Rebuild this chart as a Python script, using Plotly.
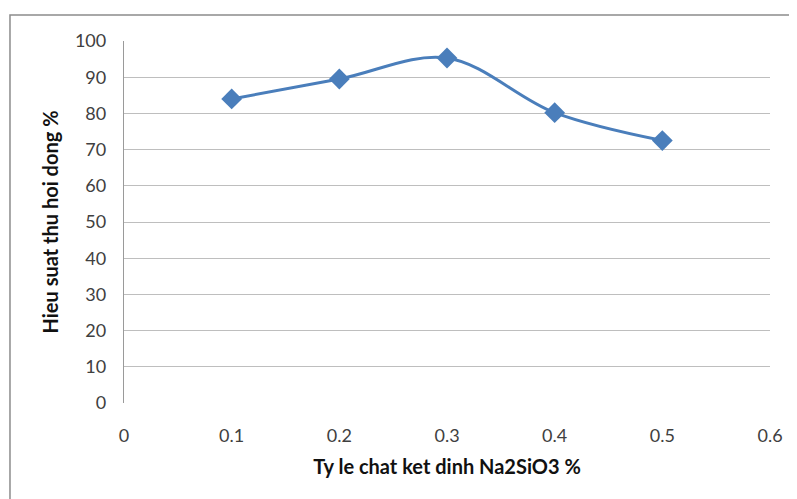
import plotly.graph_objects as go

ratio = [0.1, 0.2, 0.3, 0.4, 0.5]
recovery = [84.0, 89.5, 95.3, 80.2, 72.5]

x_ticks = [0, 0.1, 0.2, 0.3, 0.4, 0.5, 0.6]
x_tick_text = ["0", "0.1", "0.2", "0.3", "0.4", "0.5", "0.6"]
y_ticks = [0, 10, 20, 30, 40, 50, 60, 70, 80, 90, 100]

x_title = "Ty le chat ket dinh Na2SiO3 %"
y_title = "Hieu suat thu hoi dong %"

font_family = "Lato, 'Open Sans', sans-serif"

fig = go.Figure()
fig.add_trace(go.Scatter(
    x=ratio, y=recovery, mode="lines+markers",
    line=dict(color="#4A7EBB", width=3, shape="spline", smoothing=1.0),
    marker=dict(symbol="diamond", size=16, color="#4A7EBB"),
    showlegend=False, hoverinfo="x+y",
))

fig.update_layout(
    width=797, height=499,
    margin=dict(l=116, r=35, t=33, b=104),
    paper_bgcolor="white", plot_bgcolor="white",
    font=dict(family=font_family, color="#404040", size=18),
    xaxis=dict(
        range=[0, 0.6], tickvals=x_ticks, ticktext=x_tick_text,
        showgrid=False, zeroline=False, automargin=False,
        showline=False, ticks="", ticklabelstandoff=20,
        tickfont=dict(size=18, color="#404040"),
        title=dict(text="<b>" + x_title + "</b>", font=dict(size=20, color="#111111"), standoff=14),
    ),
    yaxis=dict(
        range=[0, 100], tickvals=y_ticks,
        showgrid=True, gridcolor="#BEBEBE", gridwidth=1.3,
        zeroline=False, showline=True, linecolor="#9A9A9A", linewidth=1.3,
        ticks="", ticklabelstandoff=13, automargin=False,
        tickfont=dict(size=18, color="#404040"),
        title=dict(text="<b>" + y_title + "</b>", font=dict(size=20, color="#111111"), standoff=10),
    ),
    shapes=[dict(
        type="rect", xref="paper", yref="paper",
        x0=-0.1765, x1=1.2, y0=-0.35, y1=1.0718,
        line=dict(color="#8C8C8C", width=1.5), layer="below",
    )],
)

fig.write_html("out.html")
